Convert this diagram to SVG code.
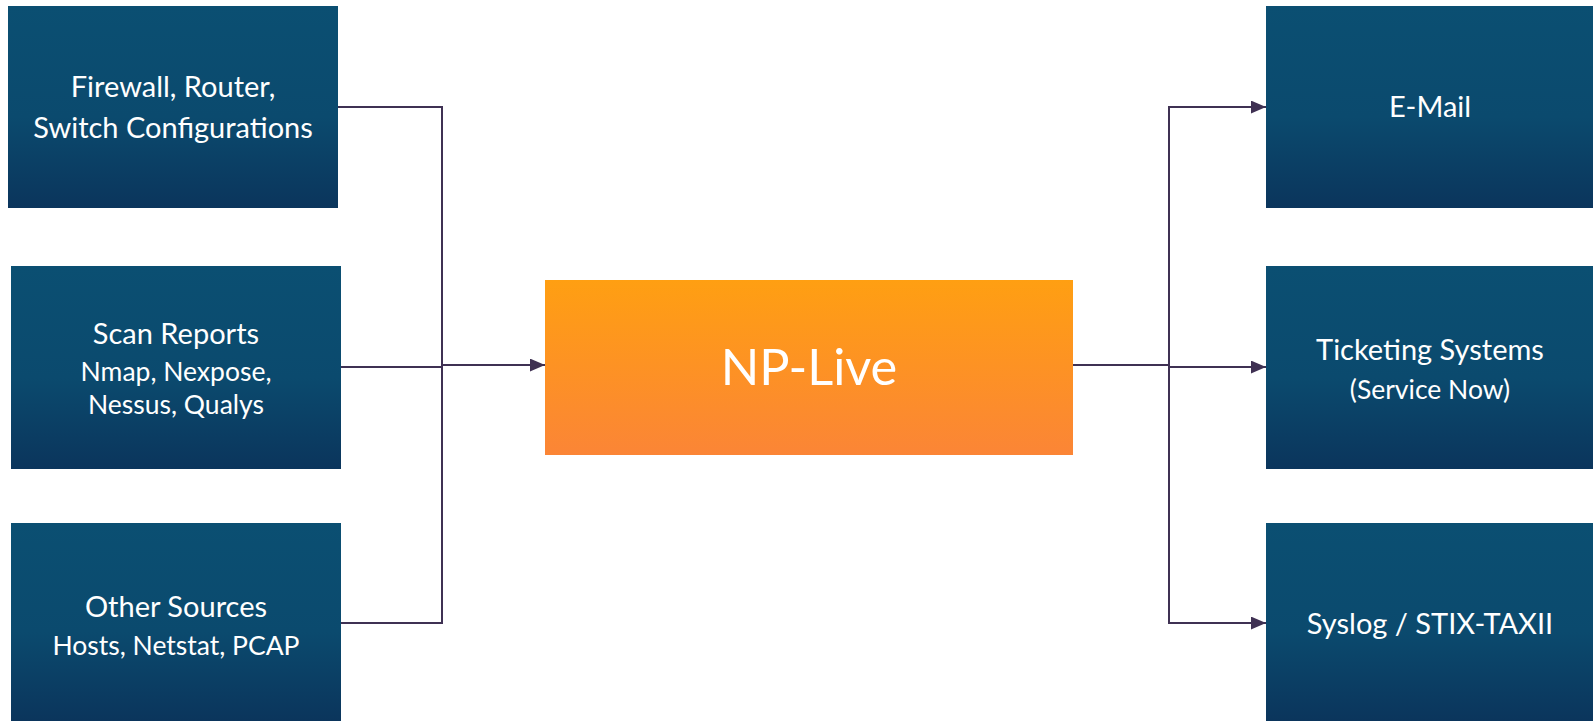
<svg xmlns="http://www.w3.org/2000/svg" width="1593" height="721" viewBox="0 0 1593 721">
<defs>
<linearGradient id="blue" x1="0" y1="0" x2="0" y2="1">
<stop offset="0" stop-color="#0B4F72"/>
<stop offset="0.55" stop-color="#0B4A6E"/>
<stop offset="1" stop-color="#0B355C"/>
</linearGradient>
<linearGradient id="orange" x1="0" y1="0" x2="0" y2="1">
<stop offset="0" stop-color="#FF9F12"/>
<stop offset="1" stop-color="#FB8536"/>
</linearGradient>
<marker id="arr" viewBox="0 0 14 12" refX="14" refY="6" markerWidth="15" markerHeight="13" markerUnits="userSpaceOnUse" orient="auto">
<path d="M0,0 L14,6 L0,12 Z" fill="#3F3153"/>
</marker>
<style>
.box{fill:url(#blue)}
.t{font-family:Lato,"Open Sans","Liberation Sans",sans-serif;fill:#FFFFFF;text-anchor:middle}
.big{font-size:29px}
.small{font-size:26.5px}
.line{fill:none;stroke:#3F3153;stroke-width:2}
</style>
</defs>
<rect width="1593" height="721" fill="#FFFFFF"/>
<g id="connectors">
<polyline class="line" points="338,107 442,107 442,623 341,623"/>
<line class="line" x1="341" y1="367" x2="442" y2="367"/>
<line class="line" x1="442" y1="365" x2="545" y2="365" marker-end="url(#arr)"/>
<polyline class="line" points="1073,365 1169,365"/>
<polyline class="line" points="1169,623 1169,107 1266,107" marker-end="url(#arr)"/>
<polyline class="line" points="1169,367 1169,623 1266,623" marker-end="url(#arr)"/>
<line class="line" x1="1169" y1="367" x2="1266" y2="367" marker-end="url(#arr)"/>
</g>
<g id="firewall">
<rect class="box" x="8" y="6" width="330" height="202"/>
<text class="t big" x="173" y="97">Firewall, Router,</text>
<text class="t big" x="173" y="138">Switch Configurations</text>
</g>
<g id="scan">
<rect class="box" x="11" y="266" width="330" height="203"/>
<text class="t big" x="176" y="344">Scan Reports</text>
<text class="t small" x="176" y="381">Nmap, Nexpose,</text>
<text class="t small" x="176" y="414">Nessus, Qualys</text>
</g>
<g id="other">
<rect class="box" x="11" y="523" width="330" height="198"/>
<text class="t big" x="176" y="617">Other Sources</text>
<text class="t small" x="176" y="655">Hosts, Netstat, PCAP</text>
</g>
<g id="nplive">
<rect x="545" y="280" width="528" height="175" fill="url(#orange)"/>
<text class="t" x="809" y="385" font-size="50.5">NP-Live</text>
</g>
<g id="email">
<rect class="box" x="1266" y="6" width="327" height="202"/>
<text class="t big" x="1430" y="117">E-Mail</text>
</g>
<g id="ticketing">
<rect class="box" x="1266" y="266" width="327" height="203"/>
<text class="t big" x="1430" y="360">Ticketing Systems</text>
<text class="t small" x="1430" y="399">(Service Now)</text>
</g>
<g id="syslog">
<rect class="box" x="1266" y="523" width="327" height="198"/>
<text class="t big" x="1430" y="634">Syslog / STIX-TAXII</text>
</g>
</svg>
